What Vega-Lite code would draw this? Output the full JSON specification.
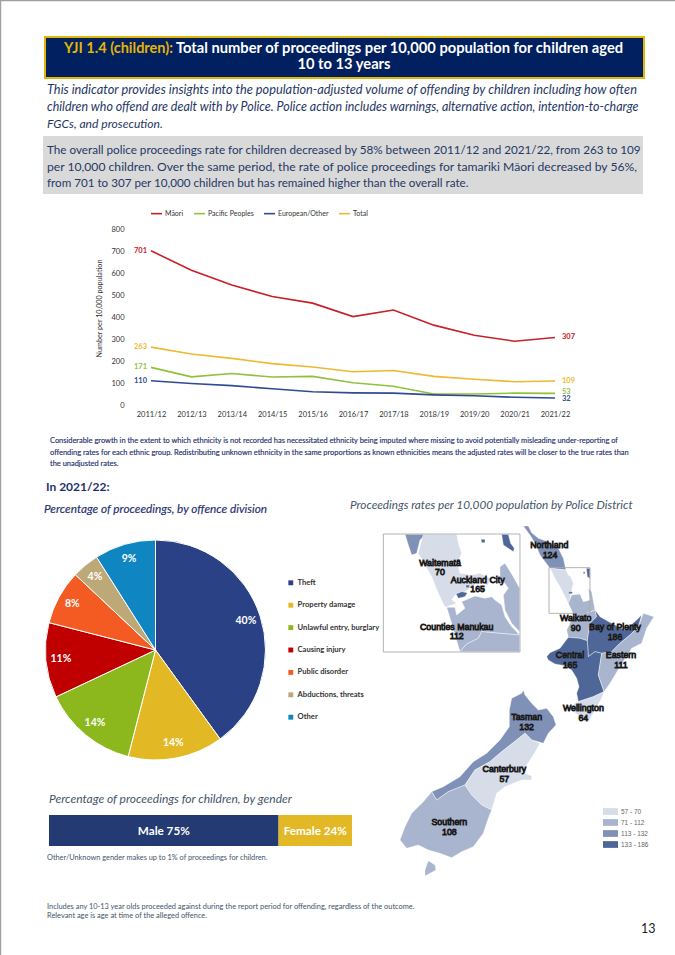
{
"$schema":"https://vega.github.io/schema/vega-lite/v6.json",
"width":675,"height":955,
"autosize":{"type":"fit","contains":"padding"},
"padding":0,
"background":"#ffffff",
"config":{"view":{"stroke":null},"text":{"font":"Lato"},"axis":{"labelFont":"Lato","titleFont":"Lato"},"legend":{"labelFont":"Lato"}},
"resolve":{"scale":{"x":"independent","y":"independent","color":"independent","theta":"independent","size":"independent"},"axis":{"x":"independent","y":"independent"},"legend":{"color":"independent","size":"independent"}},
"datasets":{
"rates":[
{"year":"2011/12","group":"Māori","rate":701},{"year":"2012/13","group":"Māori","rate":613},{"year":"2013/14","group":"Māori","rate":545},{"year":"2014/15","group":"Māori","rate":493},{"year":"2015/16","group":"Māori","rate":463},{"year":"2016/17","group":"Māori","rate":402},{"year":"2017/18","group":"Māori","rate":432},{"year":"2018/19","group":"Māori","rate":363},{"year":"2019/20","group":"Māori","rate":317},{"year":"2020/21","group":"Māori","rate":290},{"year":"2021/22","group":"Māori","rate":307},
{"year":"2011/12","group":"Pacific Peoples","rate":171},{"year":"2012/13","group":"Pacific Peoples","rate":128},{"year":"2013/14","group":"Pacific Peoples","rate":143},{"year":"2014/15","group":"Pacific Peoples","rate":127},{"year":"2015/16","group":"Pacific Peoples","rate":130},{"year":"2016/17","group":"Pacific Peoples","rate":101},{"year":"2017/18","group":"Pacific Peoples","rate":85},{"year":"2018/19","group":"Pacific Peoples","rate":50},{"year":"2019/20","group":"Pacific Peoples","rate":50},{"year":"2020/21","group":"Pacific Peoples","rate":54},{"year":"2021/22","group":"Pacific Peoples","rate":53},
{"year":"2011/12","group":"European/Other","rate":110},{"year":"2012/13","group":"European/Other","rate":98},{"year":"2013/14","group":"European/Other","rate":88},{"year":"2014/15","group":"European/Other","rate":74},{"year":"2015/16","group":"European/Other","rate":60},{"year":"2016/17","group":"European/Other","rate":55},{"year":"2017/18","group":"European/Other","rate":54},{"year":"2018/19","group":"European/Other","rate":46},{"year":"2019/20","group":"European/Other","rate":42},{"year":"2020/21","group":"European/Other","rate":35},{"year":"2021/22","group":"European/Other","rate":32},
{"year":"2011/12","group":"Total","rate":263},{"year":"2012/13","group":"Total","rate":232},{"year":"2013/14","group":"Total","rate":212},{"year":"2014/15","group":"Total","rate":188},{"year":"2015/16","group":"Total","rate":173},{"year":"2016/17","group":"Total","rate":151},{"year":"2017/18","group":"Total","rate":157},{"year":"2018/19","group":"Total","rate":130},{"year":"2019/20","group":"Total","rate":117},{"year":"2020/21","group":"Total","rate":106},{"year":"2021/22","group":"Total","rate":109}
],
"offence":[
{"division":"Theft","pct":40,"rank":1,"label":"40%"},
{"division":"Property damage","pct":14,"rank":2,"label":"14%"},
{"division":"Unlawful entry, burglary","pct":14,"rank":3,"label":"14%"},
{"division":"Causing injury","pct":11,"rank":4,"label":"11%"},
{"division":"Public disorder","pct":8,"rank":5,"label":"8%"},
{"division":"Abductions, threats","pct":4,"rank":6,"label":"4%"},
{"division":"Other","pct":9,"rank":7,"label":"9%"}
],
"gender":[
{"gender":"Male","pct":75,"rank":1,"label":"Male 75%","bar":"children"},
{"gender":"Female","pct":24,"rank":2,"label":"Female 24%","bar":"children"}
],
"districts":[
{"type":"Feature","properties":{"name":"Northland","band":"113 - 132"},"geometry":{"type":"Polygon","coordinates":[[[430,18],[445,18],[455,38],[475,55],[505,65],[535,85],[550,115],[558,150],[510,145],[495,125],[480,105],[465,70],[450,45],[430,18]]]}},
{"type":"Feature","properties":{"name":"Waitematā","band":"57 - 70"},"geometry":{"type":"Polygon","coordinates":[[[510,145],[558,150],[565,165],[572,170],[580,190],[574,215],[568,245],[565,250],[540,200],[525,175],[510,145]]]}},
{"type":"Feature","properties":{"name":"Auckland City","band":"133 - 186"},"geometry":{"type":"MultiPolygon","coordinates":[[[[566,215],[577,215],[577,221],[566,221],[566,215]]],[[[610,155],[615,155],[615,161],[610,161],[610,155]]],[[[619,145],[630,145],[630,176],[622,170],[619,145]]]]}},
{"type":"Feature","properties":{"name":"Counties Manukau","band":"71 - 112"},"geometry":{"type":"Polygon","coordinates":[[[565,250],[575,225],[600,222],[610,245],[630,240],[625,205],[635,215],[645,270],[620,280],[580,282],[565,250]]]}},
{"type":"Feature","properties":{"name":"Waikato","band":"71 - 112"},"geometry":{"type":"Polygon","coordinates":[[[580,282],[620,280],[645,270],[650,290],[630,310],[622,362],[600,355],[565,352],[560,330],[570,310],[580,282]]]}},
{"type":"Feature","properties":{"name":"Bay of Plenty","band":"133 - 186"},"geometry":{"type":"Polygon","coordinates":[[[645,270],[660,290],[695,310],[735,330],[770,300],[785,285],[775,320],[750,345],[720,370],[695,395],[665,400],[645,395],[625,410],[622,362],[630,310],[650,290],[645,270]]]}},
{"type":"Feature","properties":{"name":"Central","band":"133 - 186"},"geometry":{"type":"Polygon","coordinates":[[[500,410],[510,398],[540,385],[565,352],[600,355],[622,362],[625,410],[645,395],[665,400],[655,465],[672,515],[640,530],[595,545],[590,520],[597,500],[590,475],[575,450],[555,437],[525,432],[505,420],[500,410]]]}},
{"type":"Feature","properties":{"name":"Eastern","band":"71 - 112"},"geometry":{"type":"Polygon","coordinates":[[[665,400],[695,395],[720,370],[750,345],[775,320],[790,280],[822,290],[800,325],[785,370],[755,385],[720,440],[690,490],[672,515],[655,465],[665,400]]]}},
{"type":"Feature","properties":{"name":"Wellington","band":"57 - 70"},"geometry":{"type":"Polygon","coordinates":[[[595,545],[640,530],[672,515],[665,535],[645,570],[625,605],[605,595],[570,565],[585,550],[595,545]]]}},
{"type":"Feature","properties":{"name":"Tasman","band":"113 - 132"},"geometry":{"type":"Polygon","coordinates":[[[395,535],[425,520],[430,510],[435,525],[455,550],[475,570],[500,565],[520,590],[528,615],[505,640],[490,670],[475,665],[455,660],[435,640],[410,660],[365,695],[330,725],[285,750],[255,795],[205,815],[170,840],[155,815],[190,800],[240,770],[280,725],[320,700],[360,660],[388,620],[388,570],[395,535]]]}},
{"type":"Feature","properties":{"name":"Canterbury","band":"57 - 70"},"geometry":{"type":"Polygon","coordinates":[[[435,640],[455,660],[480,670],[460,705],[440,735],[435,760],[455,768],[455,780],[425,780],[375,800],[350,820],[335,870],[305,855],[275,825],[255,795],[285,750],[330,725],[365,695],[410,660],[435,640]]]}},
{"type":"Feature","properties":{"name":"Southern","band":"71 - 112"},"geometry":{"type":"MultiPolygon","coordinates":[[[[255,795],[275,825],[305,855],[335,870],[325,895],[310,940],[280,980],[245,995],[215,1013],[180,1000],[145,990],[115,975],[80,985],[60,960],[75,920],[95,880],[130,845],[155,815],[170,840],[205,815],[255,795]]],[[[145,1022],[165,1035],[168,1050],[150,1060],[135,1068],[135,1050],[140,1035],[145,1022]]]]}},
{"type":"Feature","properties":{"name":"Inset Northland","band":"113 - 132"},"geometry":{"type":"Polygon","coordinates":[[[75,43],[140,43],[120,60],[110,100],[95,105],[85,75],[75,43]]]}},
{"type":"Feature","properties":{"name":"Inset Waitematā","band":"57 - 70"},"geometry":{"type":"Polygon","coordinates":[[[130,43],[230,43],[235,70],[245,100],[232,130],[240,160],[275,165],[300,160],[330,175],[325,195],[290,190],[255,215],[225,225],[215,240],[230,250],[195,262],[175,220],[155,170],[115,100],[125,60],[130,43]]]}},
{"type":"Feature","properties":{"name":"Inset Counties Manukau","band":"71 - 112"},"geometry":{"type":"MultiPolygon","coordinates":[[[[200,262],[225,262],[230,285],[255,265],[245,245],[285,228],[315,235],[335,230],[345,240],[365,255],[375,290],[395,320],[419,345],[305,335],[295,355],[260,372],[240,395],[225,345],[215,310],[200,262]]],[[[360,140],[375,130],[400,170],[419,205],[419,335],[395,310],[375,270],[370,225],[385,205],[360,170],[360,140]]]]}},
{"type":"Feature","properties":{"name":"Inset Waikato","band":"71 - 112"},"geometry":{"type":"Polygon","coordinates":[[[240,395],[260,372],[295,355],[305,335],[419,345],[419,395],[240,395]]]}},
{"type":"Feature","properties":{"name":"Inset Auckland City","band":"133 - 186"},"geometry":{"type":"MultiPolygon","coordinates":[[[[228,222],[245,215],[262,218],[255,230],[235,235],[228,222]]],[[[258,195],[268,195],[268,203],[258,203],[258,195]]],[[[303,58],[315,58],[315,68],[305,68],[303,58]]],[[[365,43],[385,43],[392,70],[403,85],[400,95],[385,85],[370,75],[365,43]]],[[[305,205],[313,205],[313,213],[305,213],[305,205]]]]}}
],
"frames":[
{"type":"Feature","properties":{"name":"Auckland inset"},"geometry":{"type":"Polygon","coordinates":[[[10,42],[420,42],[420,396],[10,396],[10,42]]]}},
{"type":"Feature","properties":{"name":"Auckland locator"},"geometry":{"type":"Polygon","coordinates":[[[507,143],[630,143],[630,280],[507,280],[507,143]]]}}
],
"mapLabels":[
{"label":"Northland","mx":508,"my":75},{"label":"124","mx":510,"my":106},
{"label":"Waitematā","mx":180,"my":128},{"label":"70","mx":180,"my":156},
{"label":"Auckland City","mx":293,"my":180},{"label":"165","mx":293,"my":208},
{"label":"Counties Manukau","mx":230,"my":320},{"label":"112","mx":230,"my":347},
{"label":"Waikato","mx":587,"my":293},{"label":"90","mx":587,"my":323},
{"label":"Bay of Plenty","mx":705,"my":320},{"label":"186","mx":705,"my":350},
{"label":"Central","mx":570,"my":406},{"label":"165","mx":570,"my":435},
{"label":"Eastern","mx":723,"my":405},{"label":"111","mx":723,"my":435},
{"label":"Wellington","mx":610,"my":565},{"label":"64","mx":610,"my":593},
{"label":"Tasman","mx":440,"my":592},{"label":"132","mx":440,"my":620},
{"label":"Canterbury","mx":373,"my":748},{"label":"57","mx":373,"my":776},
{"label":"Southern","mx":208,"my":907},{"label":"108","mx":208,"my":936}
]
},
"layer":[
{"data":{"values":[{"part":"frame left"}]},"mark":{"type":"rect","fill":"#a0a0a0"},"encoding":{"x":{"datum":0,"type":"quantitative","scale":{"domain":[0,1],"range":[0,1.2]},"axis":null},"x2":{"datum":1},"y":{"datum":0,"type":"quantitative","scale":{"domain":[0,1],"range":[0,955]},"axis":null},"y2":{"datum":1}}},
{"data":{"values":[{"part":"frame top"}]},"mark":{"type":"rect","fill":"#a0a0a0"},"encoding":{"x":{"datum":0,"type":"quantitative","scale":{"domain":[0,1],"range":[0,675]},"axis":null},"x2":{"datum":1},"y":{"datum":0,"type":"quantitative","scale":{"domain":[0,1],"range":[0,1.2]},"axis":null},"y2":{"datum":1}}},
{"data":{"values":[{"part":"header"}]},"mark":{"type":"rect","fill":"#002060","stroke":"#e3b505","strokeWidth":2},"encoding":{"x":{"datum":0,"type":"quantitative","scale":{"domain":[0,1],"range":[45,644]},"axis":null},"x2":{"datum":1},"y":{"datum":0,"type":"quantitative","scale":{"domain":[0,1],"range":[37,78]},"axis":null},"y2":{"datum":1}}},
{"data":{"values":[{"t":"YJI 1.4 (children):"}]},"mark":{"type":"text","align":"left","baseline":"middle","font":"Lato","fontWeight":"bold","fontSize":14.5,"fill":"#e3b505"},"encoding":{"text":{"field":"t"},"x":{"datum":0,"type":"quantitative","scale":{"domain":[0,1],"range":[64,65]},"axis":null},"y":{"datum":0,"type":"quantitative","scale":{"domain":[0,1],"range":[49,50]},"axis":null}}},
{"data":{"values":[{"t":"Total number of proceedings per 10,000 population for children aged"}]},"mark":{"type":"text","align":"left","baseline":"middle","font":"Lato","fontWeight":"bold","fontSize":14.7,"fill":"#ffffff"},"encoding":{"text":{"field":"t"},"x":{"datum":0,"type":"quantitative","scale":{"domain":[0,1],"range":[176,177]},"axis":null},"y":{"datum":0,"type":"quantitative","scale":{"domain":[0,1],"range":[49,50]},"axis":null}}},
{"data":{"values":[{"t":"10 to 13 years"}]},"mark":{"type":"text","align":"center","baseline":"middle","font":"Lato","fontWeight":"bold","fontSize":14.7,"fill":"#ffffff"},"encoding":{"text":{"field":"t"},"x":{"datum":0,"type":"quantitative","scale":{"domain":[0,1],"range":[344,345]},"axis":null},"y":{"datum":0,"type":"quantitative","scale":{"domain":[0,1],"range":[65,66]},"axis":null}}},
{"data":{"values":[{"line":1,"t":"This indicator provides insights into the population-adjusted volume of offending by children including how often"},{"line":2,"t":"children who offend are dealt with by Police. Police action includes warnings, alternative action, intention-to-charge"},{"line":3,"t":"FGCs, and prosecution."}]},"mark":{"type":"text","align":"left","baseline":"middle","font":"Lato","fontStyle":"italic","fill":"#1f3864"},"encoding":{"text":{"field":"t"},"size":{"field":"line","type":"ordinal","scale":{"type":"ordinal","domain":[1,2,3],"range":[12.78,12.45,12.1]},"legend":null},"x":{"datum":0,"type":"quantitative","scale":{"domain":[0,1],"range":[47,48]},"axis":null},"y":{"field":"line","type":"quantitative","scale":{"domain":[1,3],"range":[90,124]},"axis":null}}},
{"data":{"values":[{"part":"summary"}]},"mark":{"type":"rect","fill":"#d9d9d9"},"encoding":{"x":{"datum":0,"type":"quantitative","scale":{"domain":[0,1],"range":[43,643]},"axis":null},"x2":{"datum":1},"y":{"datum":0,"type":"quantitative","scale":{"domain":[0,1],"range":[136,194]},"axis":null},"y2":{"datum":1}}},
{"data":{"values":[{"line":1,"t":"The overall police proceedings rate for children decreased by 58% between 2011/12 and 2021/22, from 263 to 109"},{"line":2,"t":"per 10,000 children. Over the same period, the rate of police proceedings for tamariki Māori decreased by 56%,"},{"line":3,"t":"from 701 to 307 per 10,000 children but has remained higher than the overall rate."}]},"mark":{"type":"text","align":"left","baseline":"middle","font":"Lato","fill":"#1f3864"},"encoding":{"text":{"field":"t"},"size":{"field":"line","type":"ordinal","scale":{"type":"ordinal","domain":[1,2,3],"range":[11.7,12.15,11.65]},"legend":null},"x":{"datum":0,"type":"quantitative","scale":{"domain":[0,1],"range":[47,48]},"axis":null},"y":{"field":"line","type":"quantitative","scale":{"domain":[1,3],"range":[150,184]},"axis":null}}},
{"data":{"name":"rates"},"mark":{"type":"line","strokeWidth":1.6},"encoding":{
"x":{"field":"year","type":"nominal","scale":{"type":"point","range":[151,555],"padding":0},"axis":{"title":null,"orient":"bottom","offset":-550,"ticks":false,"domain":false,"grid":false,"labelAngle":0,"labelFontSize":7.5,"labelColor":"#333333","labelPadding":5}},
"y":{"field":"rate","type":"quantitative","scale":{"domain":[0,800],"range":[405,229]},"axis":{"title":"Number per 10,000 population","orient":"left","offset":-126,"ticks":false,"domain":false,"grid":false,"values":[0,100,200,300,400,500,600,700,800],"labelFontSize":7.5,"labelColor":"#333333","labelPadding":2,"titleFontSize":7.2,"titleFontWeight":"normal","titleColor":"#333333","titlePadding":7,"titleY":308}},
"color":{"field":"group","type":"nominal","scale":{"domain":["Māori","Pacific Peoples","European/Other","Total"],"range":["#c8202a","#92c13e","#2f4b94","#edb92e"]},"legend":{"title":null,"orient":"none","legendX":150,"legendY":207,"direction":"horizontal","columns":4,"symbolType":"stroke","symbolSize":120,"symbolStrokeWidth":1.6,"labelFontSize":7,"labelColor":"#333333","columnPadding":6,"labelOffset":2}}}},
{"data":{"name":"rates"},"transform":[{"filter":"datum.year=='2011/12'"}],"mark":{"type":"text","align":"right","baseline":"middle","dx":-4,"font":"Lato","fontWeight":"bold","fontSize":7.5},"encoding":{"text":{"field":"rate"},
"x":{"field":"year","type":"nominal","scale":{"type":"point","domain":["2011/12","2021/22"],"range":[151,555],"padding":0},"axis":null},
"y":{"field":"rate","type":"quantitative","scale":{"domain":[0,800],"range":[405,229]},"axis":null},
"color":{"field":"group","type":"nominal","scale":{"domain":["Māori","Pacific Peoples","European/Other","Total"],"range":["#c8202a","#92c13e","#2f4b94","#edb92e"]},"legend":null}}},
{"data":{"name":"rates"},"transform":[{"filter":"datum.year=='2021/22' && datum.rate>100"}],"mark":{"type":"text","align":"left","baseline":"middle","dx":7,"font":"Lato","fontWeight":"bold","fontSize":7.5},"encoding":{"text":{"field":"rate"},
"x":{"field":"year","type":"nominal","scale":{"type":"point","domain":["2011/12","2021/22"],"range":[151,555],"padding":0},"axis":null},
"y":{"field":"rate","type":"quantitative","scale":{"domain":[0,800],"range":[405,229]},"axis":null},
"color":{"field":"group","type":"nominal","scale":{"domain":["Māori","Pacific Peoples","European/Other","Total"],"range":["#c8202a","#92c13e","#2f4b94","#edb92e"]},"legend":null}}},
{"data":{"name":"rates"},"transform":[{"filter":"datum.year=='2021/22' && datum.rate==53"}],"mark":{"type":"text","align":"left","baseline":"middle","dx":7,"dy":-1.5,"font":"Lato","fontWeight":"bold","fontSize":7.5,"fill":"#92c13e"},"encoding":{"text":{"field":"rate"},
"x":{"field":"year","type":"nominal","scale":{"type":"point","domain":["2011/12","2021/22"],"range":[151,555],"padding":0},"axis":null},
"y":{"field":"rate","type":"quantitative","scale":{"domain":[0,800],"range":[405,229]},"axis":null}}},
{"data":{"name":"rates"},"transform":[{"filter":"datum.year=='2021/22' && datum.rate==32"}],"mark":{"type":"text","align":"left","baseline":"middle","dx":7,"dy":1.5,"font":"Lato","fontWeight":"bold","fontSize":7.5,"fill":"#2f4b94"},"encoding":{"text":{"field":"rate"},
"x":{"field":"year","type":"nominal","scale":{"type":"point","domain":["2011/12","2021/22"],"range":[151,555],"padding":0},"axis":null},
"y":{"field":"rate","type":"quantitative","scale":{"domain":[0,800],"range":[405,229]},"axis":null}}},
{"data":{"values":[{"line":1,"t":"Considerable growth in the extent to which ethnicity is not recorded has necessitated ethnicity being imputed where missing to avoid potentially misleading under-reporting of"},{"line":2,"t":"offending rates for each ethnic group. Redistributing unknown ethnicity in the same proportions as known ethnicities means the adjusted rates will be closer to the true rates than"},{"line":3,"t":"the unadjusted rates."}]},"mark":{"type":"text","align":"left","baseline":"middle","font":"Lato","fontSize":7.45,"fill":"#1f3070","stroke":"#1f3070","strokeWidth":0.15},"encoding":{"text":{"field":"t"},"x":{"datum":0,"type":"quantitative","scale":{"domain":[0,1],"range":[50,51]},"axis":null},"y":{"field":"line","type":"quantitative","scale":{"domain":[1,3],"range":[441,464]},"axis":null}}},
{"data":{"values":[{"t":"In 2021/22:"}]},"mark":{"type":"text","align":"left","baseline":"middle","font":"Lato","fontWeight":"bold","fontSize":12,"fill":"#1f3070"},"encoding":{"text":{"field":"t"},"x":{"datum":0,"type":"quantitative","scale":{"domain":[0,1],"range":[46,47]},"axis":null},"y":{"datum":0,"type":"quantitative","scale":{"domain":[0,1],"range":[487,488]},"axis":null}}},
{"data":{"values":[{"t":"Percentage of proceedings, by offence division"}]},"mark":{"type":"text","align":"left","baseline":"middle","font":"Lato","fontStyle":"italic","fontSize":11.8,"fill":"#1f3070","stroke":"#1f3070","strokeWidth":0.15},"encoding":{"text":{"field":"t"},"x":{"datum":0,"type":"quantitative","scale":{"domain":[0,1],"range":[44,45]},"axis":null},"y":{"datum":0,"type":"quantitative","scale":{"domain":[0,1],"range":[509,510]},"axis":null}}},
{"data":{"values":[{"t":"Proceedings rates per 10,000 population by Police District"}]},"mark":{"type":"text","align":"left","baseline":"middle","font":"Lato","fontStyle":"italic","fontSize":11.75,"fill":"#44546a"},"encoding":{"text":{"field":"t"},"x":{"datum":0,"type":"quantitative","scale":{"domain":[0,1],"range":[350,351]},"axis":null},"y":{"datum":0,"type":"quantitative","scale":{"domain":[0,1],"range":[505,506]},"axis":null}}},
{"data":{"name":"offence"},"mark":{"type":"arc","radius":110,"stroke":"#ffffff","strokeWidth":1},"encoding":{
"theta":{"field":"pct","type":"quantitative","stack":true},
"order":{"field":"rank"},
"x":{"datum":0,"type":"quantitative","scale":{"domain":[0,1],"range":[155.5,156.5]},"axis":null},
"y":{"datum":0,"type":"quantitative","scale":{"domain":[0,1],"range":[650,651]},"axis":null},
"color":{"field":"division","type":"nominal","scale":{"domain":["Theft","Property damage","Unlawful entry, burglary","Causing injury","Public disorder","Abductions, threats","Other"],"range":["#2a4285","#e3b825","#8cb81e","#c00000","#f45b22","#bda878","#0f86c2"]},"legend":{"title":null,"orient":"none","legendX":287,"legendY":579,"symbolType":"square","symbolSize":24,"symbolStrokeWidth":0,"labelFontSize":7.6,"labelColor":"#333333","labelFontWeight":"bold","rowPadding":13.4,"labelOffset":3}}}},
{"data":{"name":"offence"},"mark":{"type":"text","radius":95,"font":"Lato","fontWeight":"bold","fontSize":10.5,"fill":"#ffffff","align":"center","baseline":"middle"},"encoding":{
"theta":{"field":"pct","type":"quantitative","stack":true},
"order":{"field":"rank"},
"text":{"field":"label"},
"x":{"datum":0,"type":"quantitative","scale":{"domain":[0,1],"range":[155.5,156.5]},"axis":null},
"y":{"datum":0,"type":"quantitative","scale":{"domain":[0,1],"range":[650,651]},"axis":null}}},
{"data":{"values":[{"t":"Percentage of proceedings for children, by gender"}]},"mark":{"type":"text","align":"left","baseline":"middle","font":"Lato","fontStyle":"italic","fontSize":12,"fill":"#44546a"},"encoding":{"text":{"field":"t"},"x":{"datum":0,"type":"quantitative","scale":{"domain":[0,1],"range":[49,50]},"axis":null},"y":{"datum":0,"type":"quantitative","scale":{"domain":[0,1],"range":[799,800]},"axis":null}}},
{"data":{"name":"gender"},"mark":{"type":"bar"},"encoding":{
"x":{"field":"pct","type":"quantitative","stack":"zero","scale":{"domain":[0,99],"range":[49,352]},"axis":null},
"y":{"field":"bar","type":"nominal","scale":{"type":"band","range":[815,846],"paddingInner":0,"paddingOuter":0},"axis":null},
"order":{"field":"rank"},
"color":{"field":"gender","type":"nominal","scale":{"domain":["Male","Female"],"range":["#233a73","#e3b825"]},"legend":null}}},
{"data":{"name":"gender"},"mark":{"type":"text","font":"Lato","fontWeight":"bold","fontSize":11.7,"fill":"#ffffff","align":"center","baseline":"middle"},"encoding":{
"x":{"field":"pct","type":"quantitative","stack":"zero","bandPosition":0.5,"scale":{"domain":[0,99],"range":[49,352]},"axis":null},
"y":{"field":"bar","type":"nominal","scale":{"type":"band","range":[815,846],"paddingInner":0,"paddingOuter":0},"axis":null},
"order":{"field":"rank"},
"detail":{"field":"gender"},
"text":{"field":"label"}}},
{"data":{"values":[{"t":"Other/Unknown gender makes up to 1% of proceedings for children."}]},"mark":{"type":"text","align":"left","baseline":"middle","font":"Lato","fontSize":7.37,"fill":"#44546a"},"encoding":{"text":{"field":"t"},"x":{"datum":0,"type":"quantitative","scale":{"domain":[0,1],"range":[47,48]},"axis":null},"y":{"datum":0,"type":"quantitative","scale":{"domain":[0,1],"range":[858,859]},"axis":null}}},
{"data":{"values":[{"line":1,"t":"Includes any 10-13 year olds proceeded against during the report period for offending, regardless of the outcome."},{"line":2,"t":"Relevant age is age at time of the alleged offence."}]},"mark":{"type":"text","align":"left","baseline":"middle","font":"Lato","fontSize":7.42,"fill":"#44546a"},"encoding":{"text":{"field":"t"},"x":{"datum":0,"type":"quantitative","scale":{"domain":[0,1],"range":[47,48]},"axis":null},"y":{"field":"line","type":"quantitative","scale":{"domain":[1,2],"range":[907,916]},"axis":null}}},
{"data":{"values":[{"t":"13"}]},"mark":{"type":"text","align":"left","baseline":"middle","font":"Lato","fontSize":12.5,"fill":"#222222"},"encoding":{"text":{"field":"t"},"x":{"datum":0,"type":"quantitative","scale":{"domain":[0,1],"range":[641,642]},"axis":null},"y":{"datum":0,"type":"quantitative","scale":{"domain":[0,1],"range":[929,930]},"axis":null}}},
{"data":{"name":"districts"},"projection":{"type":"identity","scale":0.33333,"translate":[380,520]},"mark":{"type":"geoshape","stroke":"#ffffff","strokeWidth":0.4},"encoding":{"color":{"field":"properties.band","type":"nominal","scale":{"domain":["57 - 70","71 - 112","113 - 132","133 - 186"],"range":["#d7dce9","#a9b5cf","#7f91b7","#4f6698"]},"legend":{"title":null,"orient":"none","legendX":603,"legendY":804,"symbolType":"M-1,-0.45H1V0.45H-1Z","symbolSize":225,"symbolStrokeWidth":0,"labelFontSize":6.5,"labelFont":"Liberation Sans","labelColor":"#666666","rowPadding":0,"labelOffset":3}}}},
{"data":{"name":"frames"},"projection":{"type":"identity","scale":0.33333,"translate":[380,520]},"mark":{"type":"geoshape","fill":null,"filled":false,"stroke":"#aaaaaa","strokeWidth":0.9},"encoding":{}},
{"data":{"name":"mapLabels"},"projection":{"type":"identity","scale":0.33333,"translate":[380,520]},"mark":{"type":"text","font":"Liberation Sans","fontSize":8.8,"stroke":"#1a1a1a","strokeWidth":0.9,"fill":"#d8d8d8","align":"center","baseline":"middle"},"encoding":{"text":{"field":"label"},"longitude":{"field":"mx","type":"quantitative"},"latitude":{"field":"my","type":"quantitative"}}}
]
}
